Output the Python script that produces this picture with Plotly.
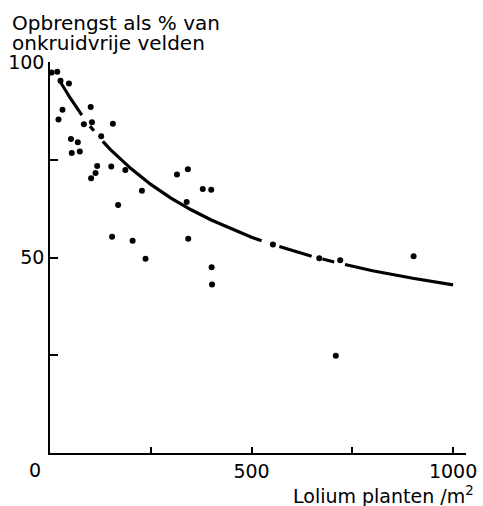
import plotly.graph_objects as go

# Observed data points (Lolium plants/m2, yield % of weed-free fields)
lolium_x = [4, 18, 26, 47, 31, 21, 101, 104, 84, 156, 127, 52, 69, 54, 74,
            152, 187, 117, 113, 102, 228, 169, 379, 400, 339, 154, 205, 343,
            237, 401, 402, 315, 342, 553, 668, 720, 902, 709]
yield_pct = [97.3, 97.5, 95.2, 94.5, 87.8, 85.3, 88.5, 84.6, 84.1, 84.2, 81.0,
             80.3, 79.5, 76.7, 77.1, 73.3, 72.4, 73.4, 71.6, 70.3, 67.1, 63.4,
             67.5, 67.3, 64.2, 55.3, 54.3, 54.8, 49.7, 47.5, 43.1, 71.2, 72.6,
             53.3, 49.8, 49.3, 50.3, 24.9]

# Fitted curve (None = gaps in the drawn line)
curve_x = [27, 50, 79, None, 99, 109, None, 131, 150, 200, 250, 300, 350, 400,
           450, 500, 525, None, 569, 600, 649, None, 676, 705, None, 732, 800,
           900, 1000]
curve_y = [94.7, 90.8, 86.4, None, 83.6, 82.4, None, 79.7, 77.6, 72.8, 68.7,
           65.2, 62.2, 59.6, 57.3, 55.2, 54.3, None, 52.8, 51.8, 50.3, None,
           49.6, 48.85, None, 48.2, 46.6, 44.7, 43.0]

x_tickvals = [250, 500, 750, 1000]
x_ticktext = ["", "500", "", "1000"]
y_tickvals = [25, 50, 75, 100]
y_ticktext = ["", "50", "", "100"]

FONT = "DejaVu Sans"

fig = go.Figure()
fig.add_trace(go.Scatter(x=curve_x, y=curve_y, mode="lines",
                         line=dict(color="black", width=3.2),
                         connectgaps=False, hoverinfo="skip"))
fig.add_trace(go.Scatter(x=lolium_x, y=yield_pct, mode="markers",
                         marker=dict(color="black", size=6)))

fig.update_layout(
    width=483, height=506,
    margin=dict(l=50, r=17, t=62, b=53),
    paper_bgcolor="white", plot_bgcolor="white",
    showlegend=False,
    font=dict(family=FONT, color="black", size=19),
    xaxis=dict(range=[0, 1032], showgrid=False, zeroline=False,
               automargin=False,
               showline=True, linecolor="black", linewidth=1.5,
               ticks="inside", ticklen=6, tickwidth=1.5, tickcolor="black",
               tickvals=x_tickvals, ticktext=x_ticktext,
               tickfont=dict(size=19, family=FONT)),
    yaxis=dict(range=[0, 100], showgrid=False, zeroline=False,
               automargin=False,
               showline=True, linecolor="black", linewidth=1.5,
               ticks="inside", ticklen=8, tickwidth=1.5, tickcolor="black",
               tickvals=y_tickvals, ticktext=y_ticktext,
               tickfont=dict(size=19, family=FONT)),
    annotations=[
        dict(text="Opbrengst als % van", xref="paper", yref="paper",
             x=-0.096, y=1.099, xanchor="left", yanchor="middle",
             showarrow=False, font=dict(size=20, family=FONT)),
        dict(text="onkruidvrije velden", xref="paper", yref="paper",
             x=-0.096, y=1.0495, xanchor="left", yanchor="middle",
             showarrow=False, font=dict(size=20, family=FONT)),
        dict(text="0", xref="paper", yref="paper",
             x=-0.036, y=-0.0435, xanchor="center", yanchor="middle",
             showarrow=False, font=dict(size=19, family=FONT)),
        dict(text="Lolium planten /m<sup>2</sup>", xref="paper", yref="paper",
             x=1.024, y=-0.108, xanchor="right", yanchor="middle",
             showarrow=False, font=dict(size=19, family=FONT)),
    ],
)

fig.write_html("out.html", config={"displayModeBar": False},
               post_script="document.body.style.margin='0';")
